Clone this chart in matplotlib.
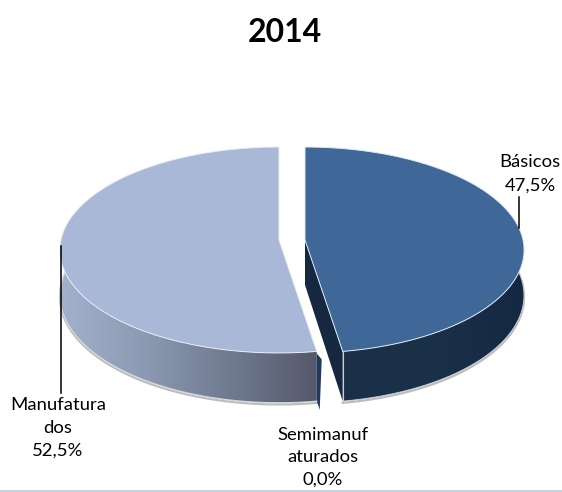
import numpy as np
import matplotlib
matplotlib.use('Agg')
import matplotlib.pyplot as plt
from matplotlib.colors import LinearSegmentedColormap
from matplotlib.patches import Polygon

plt.rcParams['font.family'] = ['Lato', 'DejaVu Sans']

TITLE = '2014'
categories = ['Básicos', 'Semimanufaturados', 'Manufaturados']
values = [47.5, 0.0, 52.5]
labels = ['Básicos\n47,5%', 'Semimanuf\naturados\n0,0%', 'Manufatura\ndos\n52,5%']

BLUE_TOP = '#3F6899'
BLUE_WALL = '#16283F'
LIGHT_TOP = '#A9B8D6'

# pie geometry, in image pixels
APEX_Y = 240
RX, RY = 218, 102
PERSP = 0.097
DEPTH = 45
APEX_BLUE = 305
APEX_LIGHT = 279


def project(t, apex_x, drop=0.0):
    # t is clockwise from 12 o'clock; front of the pie is scaled up
    u, v = np.sin(t), -np.cos(t)
    s = 1 / (1 - PERSP * v)
    return apex_x + RX * u * s, APEX_Y + RY * v * s + drop * s


def arc(t0, t1, apex_x, drop=0.0):
    t = np.linspace(t0, t1, 200)
    x, y = project(t, apex_x, drop)
    return np.column_stack([x, y])


fig = plt.figure(figsize=(5.62, 4.92), dpi=100)
ax = fig.add_axes([0, 0, 1, 1])
ax.axis('off')

# slice boundaries from the data
total = sum(values)
t_split = 2 * np.pi * values[0] / total
t_semi = t_split + 2 * np.pi * values[1] / total
t_end = 2 * np.pi


def gradient_wall(points, stops):
    cmap = LinearSegmentedColormap.from_list('wall', stops)
    x0, x1 = points[:, 0].min(), points[:, 0].max()
    y0, y1 = points[:, 1].min(), points[:, 1].max()
    im = ax.imshow(np.linspace(0, 1, 256).reshape(1, -1), cmap=cmap, aspect='auto',
                   extent=[x0, x1, y1, y0], zorder=2)
    clip = Polygon(points, transform=ax.transData, fc='none', ec='none')
    ax.add_patch(clip)
    im.set_clip_path(clip)


# soft shadow under the rims
for apex, t0, t1 in [(APEX_BLUE, 0.0, t_split), (APEX_LIGHT, t_semi, t_end)]:
    ax.plot(*arc(max(t0, np.pi * 0.45), min(t1, np.pi * 1.55), apex, DEPTH + 1.5).T,
            color='#BDBDBD', lw=1.6, zorder=1)

# outer walls
t_a = np.pi * 0.42
wall = np.vstack([arc(t_a, t_split, APEX_BLUE), arc(t_split, t_a, APEX_BLUE, DEPTH)])
gradient_wall(wall, ['#1B2F48', '#1A3049', '#152842'])

t_b = np.pi * 1.58
wall = np.vstack([arc(t_semi, t_b, APEX_LIGHT), arc(t_b, t_semi, APEX_LIGHT, DEPTH)])
gradient_wall(wall, ['#A3B1CD', '#8C99B2', '#6F7A90', '#55586A'])

# inner wall of the blue slice
tip = np.array(project(t_split, APEX_BLUE))
tip_low = np.array(project(t_split, APEX_BLUE, DEPTH))
apex_low = np.array([APEX_BLUE, APEX_Y + DEPTH])
ax.add_patch(Polygon([(APEX_BLUE, APEX_Y), tip, tip_low, apex_low],
                     fc=BLUE_WALL, ec='none', zorder=3))

# the zero slice only shows as a dark sliver of wall
semi_top = np.array(project(t_split, APEX_LIGHT))
ax.add_patch(Polygon([semi_top + (0, 2), semi_top + (5, 8), semi_top + (3, DEPTH * 1.1 + 9),
                      semi_top + (0, DEPTH * 1.1)],
                     fc='#1F3A5C', ec='none', zorder=3))

# rim highlights on the wall corners
ax.plot([tip[0], tip_low[0]], [tip[1], tip_low[1]], color='#C9CFD8', lw=0.8, zorder=4)
ax.plot(*arc(t_split, t_a, APEX_BLUE, DEPTH).T, color='#C9CFD8', lw=0.7, zorder=4)
ax.plot(*arc(t_semi, t_b, APEX_LIGHT, DEPTH).T, color='#D5D8DE', lw=0.9, zorder=4)

# top faces
blue = np.vstack([[(APEX_BLUE, APEX_Y)], arc(0, t_split, APEX_BLUE)])
ax.add_patch(Polygon(blue, fc=BLUE_TOP, ec='#E4EAF2', lw=0.7, zorder=5))
light = np.vstack([[(APEX_LIGHT, APEX_Y)], arc(t_semi, t_end, APEX_LIGHT)])
ax.add_patch(Polygon(light, fc=LIGHT_TOP, ec='#E8ECF4', lw=0.7, zorder=5))

# leader lines
ax.plot([519, 519], [197, 228], color='black', lw=1.1, zorder=6)
ax.plot([61, 61], [246, 393], color='black', lw=1.1, zorder=6)

# text
ax.text(285, 33, TITLE, fontsize=23, fontweight='bold', ha='center', va='center', color='black')
ax.text(530, 174, labels[0], fontsize=13.3, ha='center', va='center', linespacing=1.55)
ax.text(323, 457, labels[1], fontsize=13.3, ha='center', va='center', linespacing=1.5)
ax.text(58, 428, labels[2], fontsize=13.3, ha='center', va='center', linespacing=1.5)

# bottom edge of the frame
ax.plot([0, 562], [491, 491], color='#C6D3E6', lw=1.4, zorder=6)

ax.set_xlim(0, 562)
ax.set_ylim(492, 0)

fig.savefig('out.png', dpi=100)
plt.close()
